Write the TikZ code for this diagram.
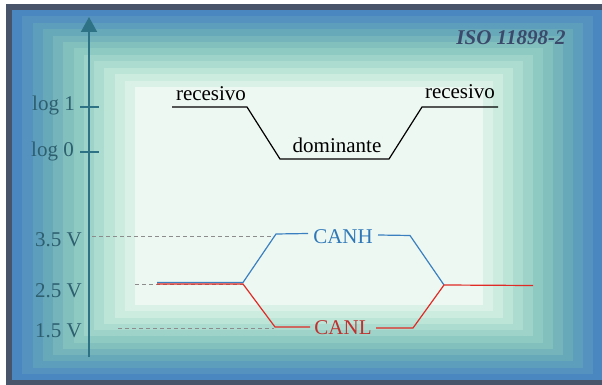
\documentclass[tikz,border=0pt]{standalone}
\usepackage{fontspec}
\setmainfont{Liberation Serif}
\usetikzlibrary{arrows.meta}
\definecolor{frameC}{HTML}{475469}
\definecolor{axisC}{HTML}{2E7385}
\definecolor{labelC}{HTML}{2D5F6F}
\definecolor{isoC}{HTML}{3B4A6B}
\definecolor{hiC}{HTML}{3A80C0}
\definecolor{hiT}{HTML}{2E78B8}
\definecolor{loC}{HTML}{E02A25}
\definecolor{loT}{HTML}{C0302E}
\definecolor{guideC}{HTML}{8C8C8C}
\begin{document}
\begin{tikzpicture}[x=1pt,y=-1pt,
  font=\fontsize{21}{25}\selectfont,
  txt/.style={inner sep=0pt},
  axislbl/.style={txt,text=labelC},
  axisline/.style={draw=axisC,line width=2pt},
  tickline/.style={draw=axisC,line width=1.3pt},
  guide/.style={draw=guideC,line width=0.9pt,dash pattern=on 4pt off 3pt},
  logic/.style={draw=black,line width=1.2pt},
  hiline/.style={draw=hiC,line width=1.2pt},
  loline/.style={draw=loC,line width=1.2pt}]
\useasboundingbox (0,0) rectangle (602,385);
\fill[white] (0,0) rectangle (602,385);
% outer frame
\fill[frameC] (6,4) rectangle (614,392);
% stepped background, blue at the rim to pale mint in the middle
\foreach \i/\c in {0/4A86C0,1/5592C0,2/5E9EBD,3/68A9B9,4/74B4BA,5/82C0BD,6/8FCAC2,7/9DD3C8,8/ACDCCF,9/BCE4D7,10/CBECDF,11/DAF1E7,12/EEF8F2}{
  \definecolor{bandC}{HTML}{\c}
  \pgfmathsetmacro\bl{12+\i*123/12}
  \pgfmathsetmacro\bt{10+\i*77/12}
  \pgfmathsetmacro\br{603-\i*10}
  \pgfmathsetmacro\bb{380-\i*75/12}
  \fill[bandC] (\bl,\bt) rectangle (\br,\bb);
}
% title
\node[txt,text=isoC,font=\fontsize{21}{25}\selectfont\bfseries\itshape,anchor=base] (iso) at (511,45) {ISO 11898-2};
% vertical axis
\coordinate (axB) at (89,357);
\coordinate (axT) at (89,17);
\draw[axisline,-{Triangle[length=15pt,width=16pt]}] (axB) -- (axT);
% logic level ticks
\coordinate (t1a) at (80,107); \coordinate (t1b) at (99,107);
\coordinate (t0a) at (80,152); \coordinate (t0b) at (99,152);
\draw[tickline] (t1a) -- (t1b);
\draw[tickline] (t0a) -- (t0b);
\node[axislbl,anchor=base east] (log1) at (75,111) {log 1};
\node[axislbl,anchor=base east] (log0) at (74,156) {log 0};
% voltage labels
\node[axislbl,anchor=base east] (v35) at (82,246) {3.5 V};
\node[axislbl,anchor=base east] (v25) at (82,297) {2.5 V};
\node[axislbl,anchor=base east] (v15) at (82,337) {1.5 V};
% guide lines
\coordinate (g35a) at (92,236); \coordinate (g35b) at (274,236);
\coordinate (g25a) at (135,284); \coordinate (g25b) at (243,284);
\coordinate (g15a) at (118,328); \coordinate (g15b) at (274,328);
\draw[guide] (g35a) -- (g35b);
\draw[guide] (g25a) -- (g25b);
\draw[guide] (g15a) -- (g15b);
% logic signal
\coordinate (p1) at (172,107);
\coordinate (p2) at (247,107);
\coordinate (p3) at (280,159);
\coordinate (p4) at (389,159);
\coordinate (p5) at (422,107);
\coordinate (p6) at (498,107);
\draw[logic,line join=miter] (p1) -- (p2) -- (p3) -- (p4) -- (p5) -- (p6);
\node[txt,anchor=base] (rec1) at (211,101) {recesivo};
\node[txt,anchor=base] (dom) at (337,153) {dominante};
\node[txt,anchor=base] (rec2) at (460,99) {recesivo};
% CANH
\coordinate (h1) at (157,282.5);
\coordinate (h2) at (243,282.5);
\coordinate (h3) at (276,234);
\coordinate (h4) at (308,233.5);
\coordinate (h5) at (378,235);
\coordinate (h6) at (410,235.5);
\coordinate (jr) at (444,285);
\node[txt,text=hiT,anchor=base] (canh) at (343,243) {CANH};
\draw[hiline] (h1) -- (h2) -- (h3) -- (h4);
\draw[hiline] (h5) -- (h6) -- (jr);
% CANL
\coordinate (l1) at (157,284);
\coordinate (l2) at (243,284);
\coordinate (l3) at (275,327);
\coordinate (l4) at (310,327);
\coordinate (l5) at (376,328);
\coordinate (l6) at (413,328);
\coordinate (l7) at (533,285.5);
\node[txt,text=loT,anchor=base] (canl) at (343,334) {CANL};
\draw[loline] (l1) -- (l2) -- (l3) -- (l4);
\draw[loline] (l5) -- (l6) -- (jr) -- (l7);
\end{tikzpicture}
\end{document}
